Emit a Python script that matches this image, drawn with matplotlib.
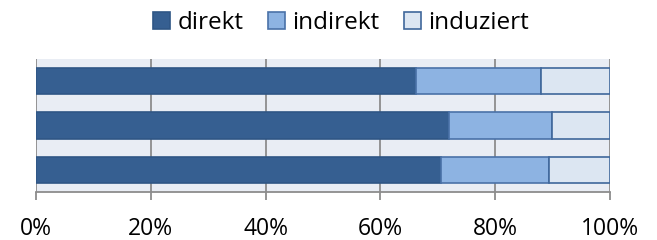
import numpy as np
import matplotlib.pyplot as plt
from matplotlib.ticker import PercentFormatter

plt.rcParams['font.family'] = ['Open Sans', 'DejaVu Sans']

# shares per row, top to bottom
direkt = [66.2, 72.0, 70.5]
indirekt = [21.7, 17.9, 18.9]
induziert = [12.1, 10.1, 10.6]
labels = ['direkt', 'indirekt', 'induziert']

fills = ['#365F91', '#8DB3E2', '#DCE6F2']
edges = ['#2F5685', '#4A72A8', '#3F679B']

fig = plt.figure(figsize=(6.57, 2.4), dpi=100)
ax = fig.add_axes([0.0548, 0.2, 0.8737, 0.554])
ax.set_facecolor('#E9EDF4')

y = np.arange(len(direkt))
left = np.zeros(len(direkt))
for vals, lab, fc, ec in zip([direkt, indirekt, induziert], labels, fills, edges):
    ax.barh(y, vals, left=left, height=0.6, color=fc, edgecolor=ec,
            linewidth=1.2, label=lab, zorder=3)
    left += np.array(vals)

ax.set_xlim(0, 100)
ax.set_ylim(2.5, -0.5)
ax.set_xticks(np.arange(0, 101, 20))
ax.xaxis.set_major_formatter(PercentFormatter(decimals=0))
ax.set_yticks([])
ax.grid(axis='x', color='#8C8C8C', linewidth=1.3, zorder=1)
ax.tick_params(axis='x', length=6, width=1.3, color='#8C8C8C',
               labelsize=16.5, pad=12)
for s in ['top', 'left', 'right']:
    ax.spines[s].set_visible(False)
ax.spines['bottom'].set_color('#8C8C8C')
ax.spines['bottom'].set_linewidth(1.3)

fig.legend(loc='center', bbox_to_anchor=(0.519, 0.905), ncol=3,
           frameon=False, fontsize=17.5, handlelength=0.7, handleheight=0.7,
           handletextpad=0.3, columnspacing=1.0, borderpad=0)

fig.savefig('out.png', dpi=100)
